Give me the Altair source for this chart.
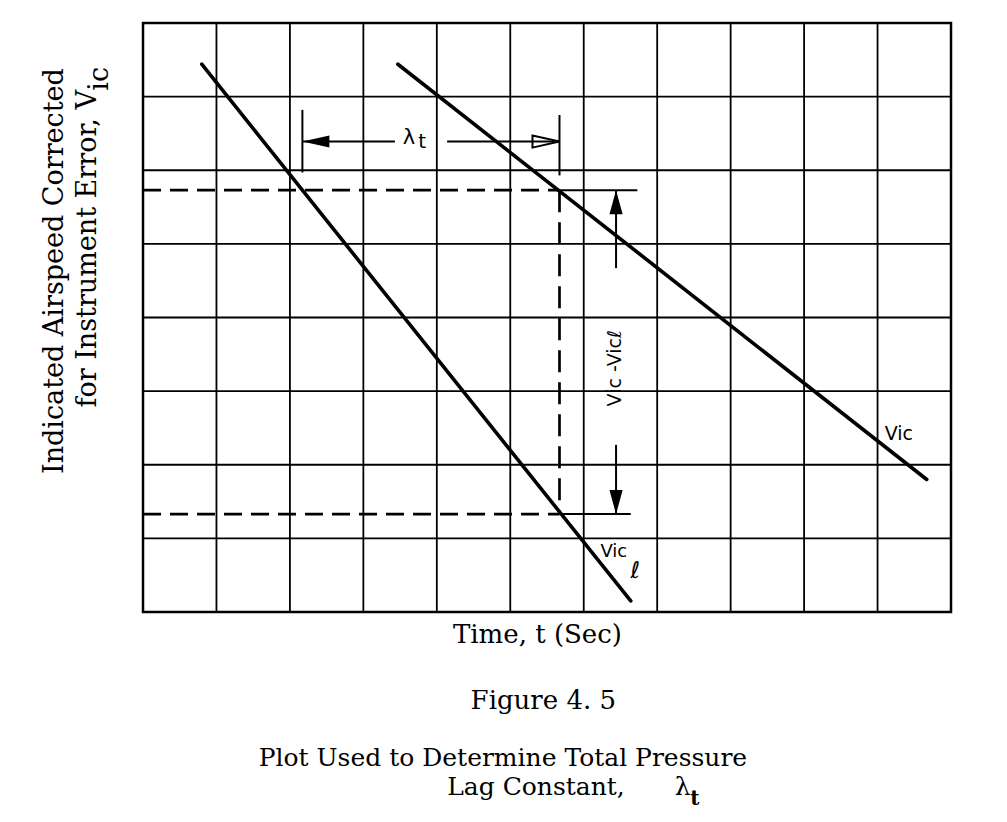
import altair as alt
import pandas as pd

# ---------------- values (grid units) ----------------
# time axis: 11 grid columns, airspeed axis: 8 grid rows
vicl_t = [0.80, 6.64]        # lagged trace Vic_l
vicl_v = [7.44, 0.15]
vic_t = [3.47, 10.67]        # true trace Vic
vic_v = [7.44, 1.80]

v_upper = 5.73               # upper reference level (dashed)
v_lower = 1.33               # lower reference level (dashed)
t_vicl_cross = 2.17          # Vic_l reaches the upper level
t_vic_cross = 5.67           # Vic reaches the upper level
lag_v = 6.39                 # level of the lambda_t dimension line
lag_tick_left = [5.97, 6.82]
lag_tick_right = [5.93, 6.75]
lag_label_gap = [3.43, 4.14]
dim_t = 6.44                 # time of the (Vic - Vic_l) dimension line
dim_label_gap = [4.67, 2.27]
ext_upper_end = 6.73
ext_lower_end = 6.64

x_ticks = list(range(0, 12))
y_ticks = list(range(0, 9))

# ---------------- chart ----------------
xs = alt.Scale(domain=[x_ticks[0], x_ticks[-1]], nice=False, zero=False)
ys = alt.Scale(domain=[y_ticks[0], y_ticks[-1]], nice=False, zero=False)


def segs(rows):
    return pd.DataFrame(rows, columns=["x", "y", "x2", "y2"])


def rule_layer(df, **mk):
    return alt.Chart(df).mark_rule(color="black", **mk).encode(
        x=alt.X("x:Q", scale=xs, axis=None),
        x2="x2:Q",
        y=alt.Y("y:Q", scale=ys, axis=None),
        y2="y2:Q",
    )


grid = segs(
    [[t, y_ticks[0], t, y_ticks[-1]] for t in x_ticks]
    + [[x_ticks[0], v, x_ticks[-1], v] for v in y_ticks]
)

series = pd.DataFrame({
    "t": vicl_t + vic_t,
    "v": vicl_v + vic_v,
    "s": ["Vicl"] * len(vicl_t) + ["Vic"] * len(vic_t),
})

lines = alt.Chart(series).mark_line(color="black", strokeWidth=3.6, strokeCap="round").encode(
    x=alt.X("t:Q", scale=xs, axis=None),
    y=alt.Y("v:Q", scale=ys, axis=None),
    detail="s:N",
)

dashed_h = segs([
    [0, v_upper, t_vic_cross, v_upper],
    [0, v_lower, t_vic_cross, v_lower],
])
dashed_v = segs([
    [t_vic_cross, v_upper, t_vic_cross, v_lower],
])
solid = segs([
    [t_vic_cross, v_upper, ext_upper_end, v_upper],
    [t_vic_cross, v_lower, ext_lower_end, v_lower],
    [t_vicl_cross, lag_tick_left[0], t_vicl_cross, lag_tick_left[1]],
    [t_vic_cross, lag_tick_right[0], t_vic_cross, lag_tick_right[1]],
    [t_vicl_cross, lag_v, lag_label_gap[0], lag_v],
    [lag_label_gap[1], lag_v, t_vic_cross, lag_v],
    [dim_t, v_upper, dim_t, dim_label_gap[0]],
    [dim_t, dim_label_gap[1], dim_t, v_lower],
])

LEFT = "M0,0L2,-0.45L2,0.45Z"
RIGHT = "M0,0L-2,-0.45L-2,0.45Z"
UP = "M0,0L-0.55,2L0.55,2Z"
DOWN = "M0,0L-0.55,-2L0.55,-2Z"


def head(t, v, shape, size, filled):
    df = pd.DataFrame({"t": [t], "v": [v]})
    mk = dict(shape=shape, size=size, color="black", opacity=1)
    if filled:
        mk.update(filled=True)
    else:
        mk.update(filled=False, strokeWidth=2)
    return alt.Chart(df).mark_point(**mk).encode(
        x=alt.X("t:Q", scale=xs, axis=None),
        y=alt.Y("v:Q", scale=ys, axis=None),
    )


one = pd.DataFrame({"k": [0]})


def label(text, x, y, size, font="DejaVu Sans", **kw):
    return alt.Chart(one).mark_text(text=text, fontSize=size, font=font, color="black", **kw).encode(
        x=alt.XDatum(x, scale=xs, axis=None),
        y=alt.YDatum(y, scale=ys, axis=None),
    )


SERIF = "DejaVu Serif"

layers = [
    rule_layer(grid, strokeWidth=1.8),
    lines,
    rule_layer(dashed_h, strokeWidth=2.7, strokeDash=[18, 9]),
    rule_layer(dashed_v, strokeWidth=2.7, strokeDash=[22, 10]),
    rule_layer(solid, strokeWidth=2.0),
    head(t_vicl_cross, lag_v, LEFT, 729, True),
    head(t_vic_cross, lag_v, RIGHT, 729, False),
    head(dim_t, v_upper, UP, 576, True),
    head(dim_t, v_lower, DOWN, 576, True),
    # in-plot labels
    label("λ", 3.62, 6.44, 21, align="center", baseline="middle"),
    label("t", 3.80, 6.39, 20, align="center", baseline="middle"),
    label("Vic -Vicℓ", 6.43, 3.31, 19, angle=270, align="center", baseline="middle"),
    label("Vic", 10.29, 2.42, 19, align="center", baseline="middle"),
    label("Vic", 6.41, 0.82, 18, align="center", baseline="middle"),
    label("ℓ", 6.70, 0.56, 23, fontStyle="italic", align="center", baseline="middle"),
    # y-axis title (two lines, rotated) with subscript
    label("Indicated Airspeed Corrected", -1.085, 4.63, 27, font=SERIF,
          angle=270, align="center", baseline="alphabetic"),
    label("for Instrument Error, V", -0.64, 7.09, 27, font=SERIF,
          angle=270, align="right", baseline="alphabetic"),
    label("ic", -0.48, 7.08, 27, font=SERIF,
          angle=270, align="left", baseline="alphabetic"),
    # x-axis title and caption
    label("Time, t (Sec)", 5.37, -0.42, 26, font=SERIF, align="center", baseline="alphabetic"),
    label("Figure 4. 5", 5.45, -1.32, 26, font=SERIF, align="center", baseline="alphabetic"),
    label("Plot Used to Determine Total Pressure", 4.90, -2.09, 25, font=SERIF,
          align="center", baseline="alphabetic"),
    label("Lag Constant,", 5.35, -2.48, 25, font=SERIF, align="center", baseline="alphabetic"),
    label("λ", 7.24, -2.48, 25, font=SERIF, align="left", baseline="alphabetic"),
    label("t", 7.45, -2.62, 20, font=SERIF, fontWeight="bold", align="left", baseline="alphabetic"),
]

chart = alt.layer(*layers).properties(
    width=808,
    height=589,
    autosize=alt.AutoSizeParams(type="none"),
    padding={"left": 143, "top": 23, "right": 56, "bottom": 210},
    background="white",
).configure_view(stroke="black", strokeWidth=2.5)

chart.save("out.html", embed_options={"renderer": "svg", "actions": False})
